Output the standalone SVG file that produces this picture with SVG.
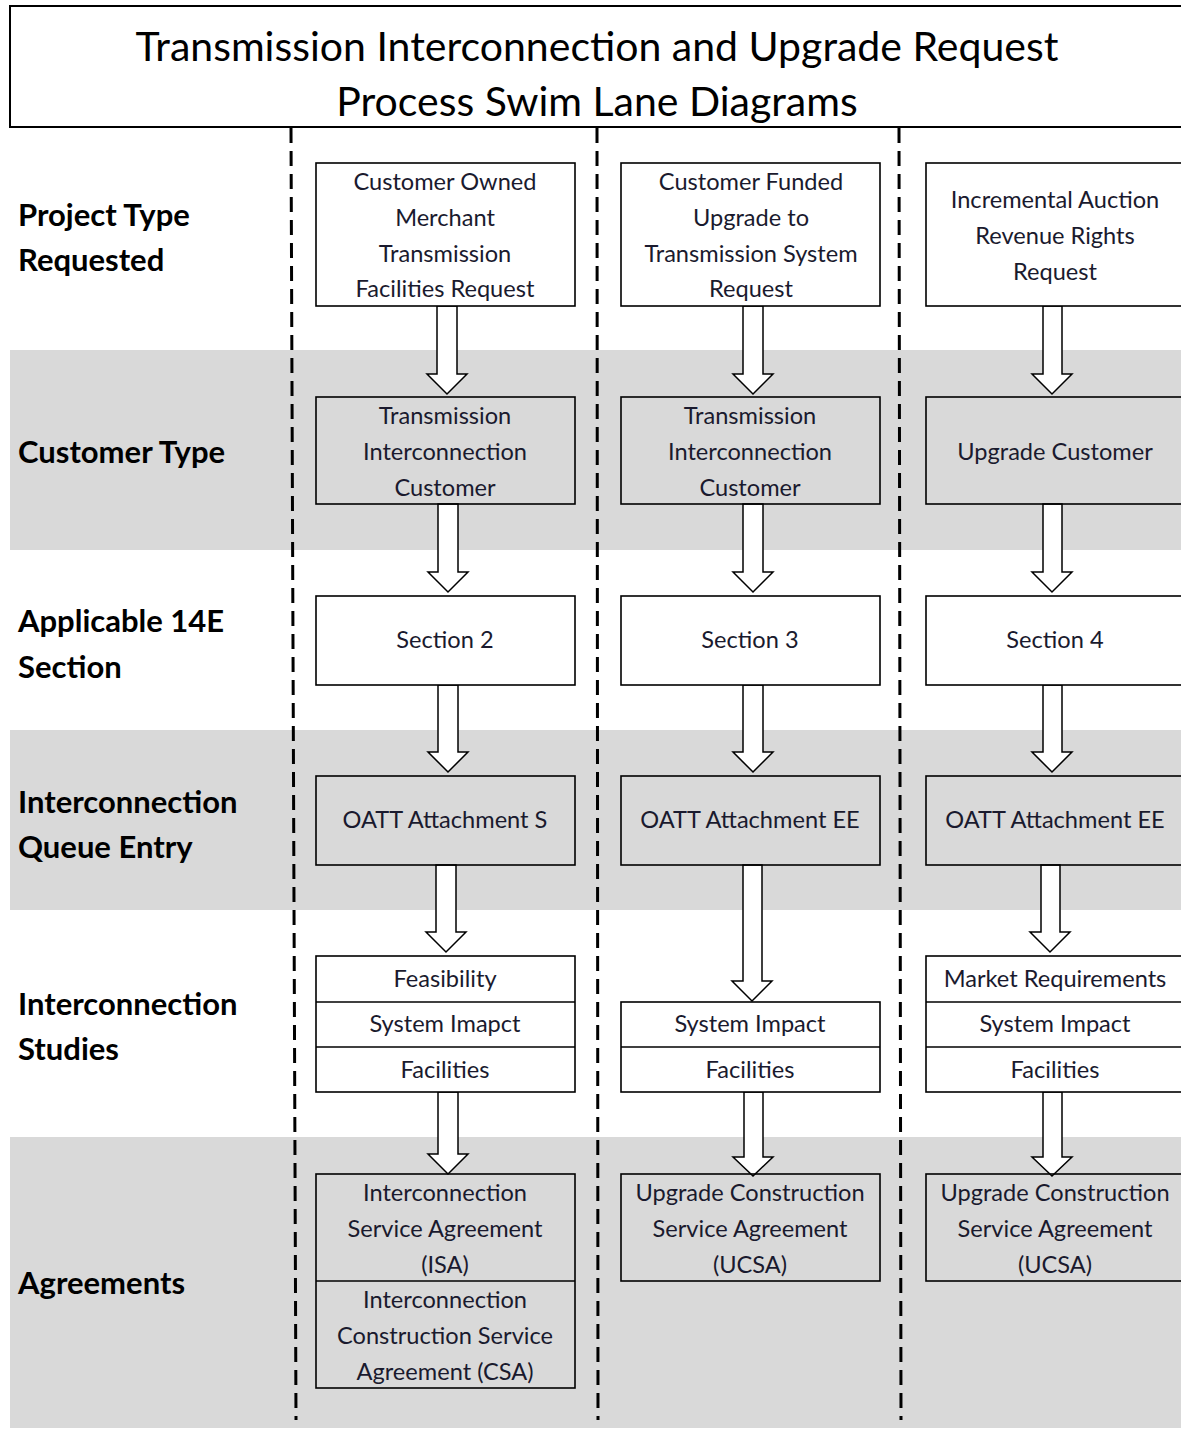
<svg xmlns="http://www.w3.org/2000/svg" width="1181" height="1430" viewBox="0 0 1181 1430">
<style>
.band{fill:#d9d9d9}
.box{fill:none;stroke:#000;stroke-width:1.6}
.wbox{fill:#fff;stroke:#000;stroke-width:1.6}
.t{font-family:Lato,"Open Sans","Liberation Sans",sans-serif;font-size:23.6px;fill:#1a1a2e;text-anchor:middle}
.lab{font-family:Lato,"Open Sans","Liberation Sans",sans-serif;font-size:31px;font-weight:bold;fill:#000}
.title{font-family:Lato,"Open Sans","Liberation Sans",sans-serif;font-size:41px;fill:#000;text-anchor:middle}
.dash{stroke:#000;stroke-width:3;stroke-dasharray:15 8;fill:none}
.arr{fill:#fff;stroke:#000;stroke-width:1.5;stroke-linejoin:miter}
</style>
<rect width="1181" height="1430" fill="#fff"/>
<g id="bands">
<rect class="band" x="10" y="350" width="1171" height="200"/>
<rect class="band" x="10" y="730" width="1171" height="180"/>
<rect class="band" x="10" y="1137" width="1171" height="291"/>
</g>
<g id="title">
<rect x="10" y="6" width="1180" height="121" fill="#fff" stroke="#000" stroke-width="2"/>
<text class="title" x="597" y="61">Transmission Interconnection and Upgrade Request</text>
<text class="title" x="597" y="116">Process Swim Lane Diagrams</text>
</g>
<g id="lanes">
<line class="dash" x1="291" y1="128" x2="296" y2="1420"/>
<line class="dash" x1="597" y1="128" x2="598" y2="1420"/>
<line class="dash" x1="899" y1="128" x2="901" y2="1420"/>
</g>
<g id="row-labels">
<text class="lab" x="18" y="226">Project Type</text>
<text class="lab" x="18" y="271">Requested</text>
<text class="lab" x="18" y="463">Customer Type</text>
<text class="lab" x="18" y="632">Applicable 14E</text>
<text class="lab" x="18" y="678">Section</text>
<text class="lab" x="18" y="813">Interconnection</text>
<text class="lab" x="18" y="858">Queue Entry</text>
<text class="lab" x="18" y="1015">Interconnection</text>
<text class="lab" x="18" y="1060">Studies</text>
<text class="lab" x="18" y="1294">Agreements</text>
</g>
<g id="connectors">
<polygon class="arr" points="437,306 457,306 457,374 467,374 447,394 427,374 437,374"/>
<polygon class="arr" points="438,504 458,504 458,572 468,572 448,592 428,572 438,572"/>
<polygon class="arr" points="438,685 458,685 458,752 468,752 448,772 428,752 438,752"/>
<polygon class="arr" points="436,865 456,865 456,932 466,932 446,952 426,932 436,932"/>
<polygon class="arr" points="438,1092 458,1092 458,1154 468,1154 448,1174 428,1154 438,1154"/>
<polygon class="arr" points="743,306 763,306 763,374 773,374 753,394 733,374 743,374"/>
<polygon class="arr" points="743,504 763,504 763,572 773,572 753,592 733,572 743,572"/>
<polygon class="arr" points="743,685 763,685 763,752 773,752 753,772 733,752 743,752"/>
<polygon class="arr" points="743,865 762,865 762,981 772,981 752,1001 732,981 743,981"/>
<polygon class="arr" points="744,1092 763,1092 763,1157 773,1157 753,1176 733,1157 744,1157"/>
<polygon class="arr" points="1043,306 1062,306 1062,374 1072,374 1052,394 1032,374 1043,374"/>
<polygon class="arr" points="1043,504 1062,504 1062,572 1072,572 1052,592 1032,572 1043,572"/>
<polygon class="arr" points="1043,685 1062,685 1062,752 1072,752 1052,772 1032,752 1043,752"/>
<polygon class="arr" points="1041,865 1060,865 1060,932 1070,932 1050,952 1030,932 1041,932"/>
<polygon class="arr" points="1043,1092 1062,1092 1062,1157 1072,1157 1052,1176 1032,1157 1043,1157"/>
</g>
<g id="n-c1-project">
<rect class="wbox" x="316" y="163" width="259" height="143"/>
<text class="t" x="445" y="190">Customer Owned</text>
<text class="t" x="445" y="226">Merchant</text>
<text class="t" x="445" y="262">Transmission</text>
<text class="t" x="445" y="297">Facilities Request</text>
</g>
<g id="n-c2-project">
<rect class="wbox" x="621" y="163" width="259" height="143"/>
<text class="t" x="751" y="190">Customer Funded</text>
<text class="t" x="751" y="226">Upgrade to</text>
<text class="t" x="751" y="262">Transmission System</text>
<text class="t" x="751" y="297">Request</text>
</g>
<g id="n-c3-project">
<rect class="wbox" x="926" y="163" width="270" height="143"/>
<text class="t" x="1055" y="208">Incremental Auction</text>
<text class="t" x="1055" y="244">Revenue Rights</text>
<text class="t" x="1055" y="280">Request</text>
</g>
<g id="n-c1-customer">
<rect class="box" x="316" y="397" width="259" height="107"/>
<text class="t" x="445" y="424">Transmission</text>
<text class="t" x="445" y="460">Interconnection</text>
<text class="t" x="445" y="496">Customer</text>
</g>
<g id="n-c2-customer">
<rect class="box" x="621" y="397" width="259" height="107"/>
<text class="t" x="750" y="424">Transmission</text>
<text class="t" x="750" y="460">Interconnection</text>
<text class="t" x="750" y="496">Customer</text>
</g>
<g id="n-c3-customer">
<rect class="box" x="926" y="397" width="270" height="107"/>
<text class="t" x="1055" y="460">Upgrade Customer</text>
</g>
<g id="n-c1-section">
<rect class="wbox" x="316" y="596" width="259" height="89"/>
<text class="t" x="445" y="648">Section 2</text>
</g>
<g id="n-c2-section">
<rect class="wbox" x="621" y="596" width="259" height="89"/>
<text class="t" x="750" y="648">Section 3</text>
</g>
<g id="n-c3-section">
<rect class="wbox" x="926" y="596" width="270" height="89"/>
<text class="t" x="1055" y="648">Section 4</text>
</g>
<g id="n-c1-queue">
<rect class="box" x="316" y="776" width="259" height="89"/>
<text class="t" x="445" y="828">OATT Attachment S</text>
</g>
<g id="n-c2-queue">
<rect class="box" x="621" y="776" width="259" height="89"/>
<text class="t" x="750" y="828">OATT Attachment EE</text>
</g>
<g id="n-c3-queue">
<rect class="box" x="926" y="776" width="270" height="89"/>
<text class="t" x="1055" y="828">OATT Attachment EE</text>
</g>
<g id="n-c1-studies">
<rect class="wbox" x="316" y="956" width="259" height="136"/>
<line class="box" x1="316" y1="1002" x2="575" y2="1002"/>
<line class="box" x1="316" y1="1047" x2="575" y2="1047"/>
<text class="t" x="445" y="987">Feasibility</text>
<text class="t" x="445" y="1032">System Imapct</text>
<text class="t" x="445" y="1078">Facilities</text>
</g>
<g id="n-c2-studies">
<rect class="wbox" x="621" y="1002" width="259" height="90"/>
<line class="box" x1="621" y1="1047" x2="880" y2="1047"/>
<text class="t" x="750" y="1032">System Impact</text>
<text class="t" x="750" y="1078">Facilities</text>
</g>
<g id="n-c3-studies">
<rect class="wbox" x="926" y="956" width="270" height="136"/>
<line class="box" x1="926" y1="1002" x2="1196" y2="1002"/>
<line class="box" x1="926" y1="1047" x2="1196" y2="1047"/>
<text class="t" x="1055" y="987">Market Requirements</text>
<text class="t" x="1055" y="1032">System Impact</text>
<text class="t" x="1055" y="1078">Facilities</text>
</g>
<g id="n-c1-agreements">
<rect class="box" x="316" y="1174" width="259" height="214"/>
<line class="box" x1="316" y1="1281" x2="575" y2="1281"/>
<text class="t" x="445" y="1201">Interconnection</text>
<text class="t" x="445" y="1237">Service Agreement</text>
<text class="t" x="445" y="1273">(ISA)</text>
<text class="t" x="445" y="1308">Interconnection</text>
<text class="t" x="445" y="1344">Construction Service</text>
<text class="t" x="445" y="1380">Agreement (CSA)</text>
</g>
<g id="n-c2-agreements">
<rect class="box" x="621" y="1174" width="259" height="107"/>
<text class="t" x="750" y="1201">Upgrade Construction</text>
<text class="t" x="750" y="1237">Service Agreement</text>
<text class="t" x="750" y="1273">(UCSA)</text>
</g>
<g id="n-c3-agreements">
<rect class="box" x="926" y="1174" width="270" height="107"/>
<text class="t" x="1055" y="1201">Upgrade Construction</text>
<text class="t" x="1055" y="1237">Service Agreement</text>
<text class="t" x="1055" y="1273">(UCSA)</text>
</g>
</svg>
